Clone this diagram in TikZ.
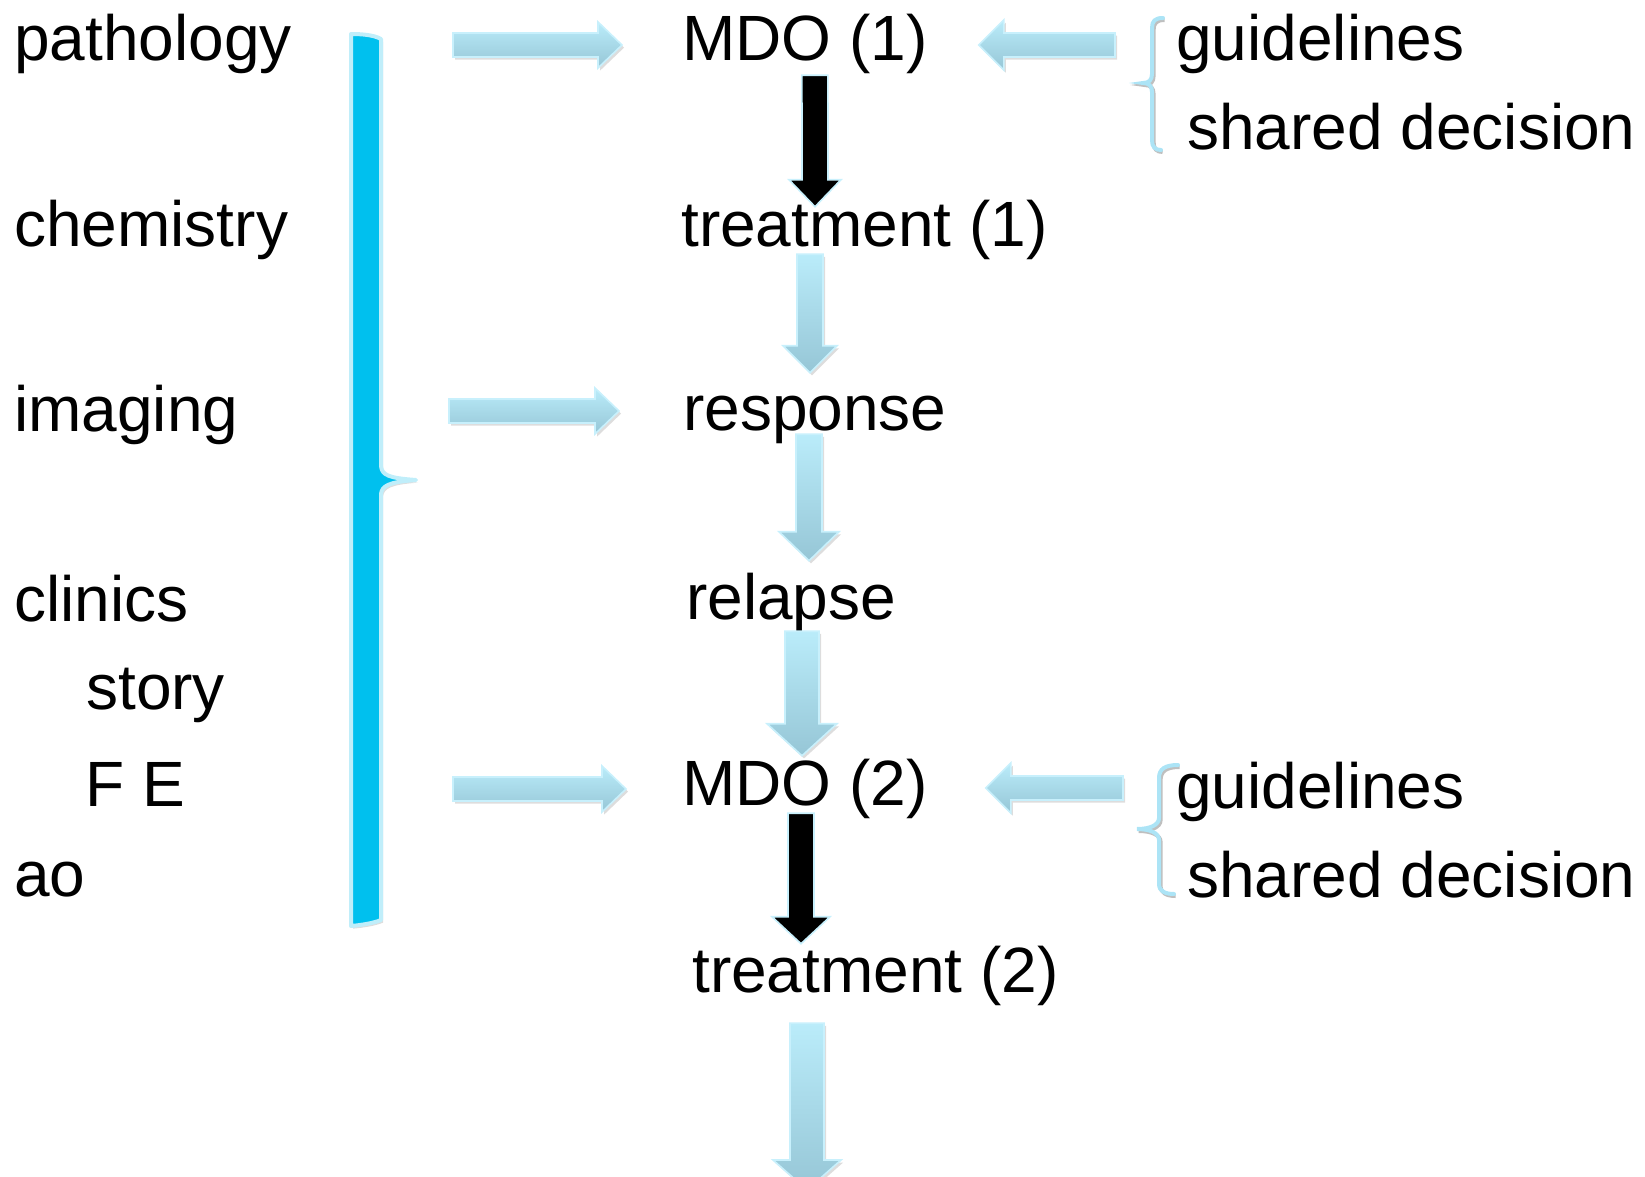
\documentclass[tikz,border=0pt]{standalone}
\usepackage{fontspec}
\setmainfont{Liberation Sans}
\usetikzlibrary{calc,shadows}

\definecolor{barcyan}{RGB}{0,192,238}
\definecolor{barrim}{RGB}{192,238,250}
\definecolor{bracerim}{RGB}{172,228,246}
\definecolor{arrowtop}{RGB}{186,236,250}
\definecolor{arrowbot}{RGB}{150,198,214}
\definecolor{arrowrim}{RGB}{200,240,252}

% sizes of a block arrow, changed by the keys below
\def\shaftw{9.75pt}
\def\headw{20.25pt}
\def\headlen{20.25pt}

\tikzset{
  lbl/.style={anchor=base west, inner sep=0pt, text height=34.5pt, text depth=9.75pt,
    font=\fontsize{48pt}{56pt}\selectfont},
  shaft half/.code={\def\shaftw{#1}},
  head half/.code={\def\headw{#1}},
  head long/.code={\def\headlen{#1}},
  softshadow/.style={drop shadow={shadow xshift=1.5pt, shadow yshift=-2pt, opacity=0.22, fill=black!60}},
  flowarrow/.style={top color=arrowtop, bottom color=arrowbot, draw=arrowrim, line width=1.2pt, softshadow},
  darkarrow/.style={fill=black, draw=arrowrim, line width=1.2pt},
  sideflow/.style={flowarrow, shaft half=9pt, head half=17.25pt, head long=18pt},
  bracestroke/.style={draw=bracerim, line width=3pt, line cap=round,
    preaction={draw=black!25, line width=3pt, transform canvas={shift={(1.2pt,-1.5pt)}}}},
}

% block arrow from #2 to #3
\newcommand{\blockarrow}[3][flowarrow]{%
  \begin{scope}[#1]
    \coordinate (ba-s) at (#2);
    \coordinate (ba-t) at (#3);
    \coordinate (ba-h) at ($(ba-t)!\headlen!(ba-s)$);
    \path[#1] ($(ba-s)!\shaftw!90:(ba-t)$) -- ($(ba-h)!\shaftw!-90:(ba-s)$)
      -- ($(ba-h)!\headw!-90:(ba-s)$) -- (ba-t) -- ($(ba-h)!\headw!90:(ba-s)$)
      -- ($(ba-h)!\shaftw!90:(ba-s)$) -- ($(ba-s)!\shaftw!-90:(ba-t)$) -- cycle;
  \end{scope}}

\begin{document}
\begin{tikzpicture}[x=0.75pt, y=-0.75pt]
		\useasboundingbox (0,0) rectangle (1645,1177);
		\clip (0,0) rectangle (1645,1177);
		
		% left column
		\node[lbl] (patho) at (14,61) {pathology};
		\node[lbl] (chem) at (14,246) {chemistry};
		\node[lbl] (imag) at (14,431) {imaging};
		\node[lbl] (clin) at (14,621) {clinics};
		\node[lbl] (story) at (86,709) {story};
		\node[lbl] (fe) at (85,806) {F E};
		\node[lbl] (ao) at (14,896) {ao};
		
		% the big bracket
		\path[fill=barcyan, draw=barrim, line width=3pt, line join=round, softshadow]
			(351,34) .. controls (362,34) and (374,35) .. (381,39)
			-- (381,466) .. controls (382,475) and (388,478) .. (416,480)
			.. controls (388,482) and (382,486) .. (381,494)
			-- (381,920) .. controls (374,923) and (362,925) .. (351,926) -- cycle;
		
		% middle column
		\node[lbl] (mdoA) at (682,61) {MDO (1)};
		\node[lbl] (treatA) at (681,246) {treatment (1)};
		\node[lbl] (resp) at (683,430) {response};
		\node[lbl] (relap) at (686,619) {relapse};
		\node[lbl] (mdoB) at (682,805) {MDO (2)};
		\node[lbl] (treatB) at (692,992) {treatment (2)};
		
		% right column
		\node[lbl] (guideA) at (1176,61) {guidelines};
		\node[lbl] (sharedA) at (1187,150) {shared decision};
		\node[lbl] (guideB) at (1176,808) {guidelines};
		\node[lbl] (sharedB) at (1187,897) {shared decision};
		
		\path[bracestroke]
			(1163,18) .. controls (1155,18) and (1152,21) .. (1152,28) -- (1152,74)
			.. controls (1152,80) and (1149,83) .. (1143,83)
			.. controls (1149,83) and (1152,86) .. (1152,92) -- (1152,140)
			.. controls (1152,147) and (1155,150) .. (1161,150);
		\path[bracestroke]
			(1178,765) .. controls (1165,765) and (1159,769) .. (1159,778) -- (1159,818)
			.. controls (1159,825) and (1150,829) .. (1137,829)
			.. controls (1150,829) and (1159,833) .. (1159,840) -- (1159,884)
			.. controls (1159,891) and (1165,894) .. (1174,894);
		
		% free ends
		\coordinate (srcA) at (453,45);
		\coordinate (srcB) at (449,411);
		\coordinate (srcC) at (453,789);
		\coordinate (sink) at (807,1190);
		
		% arrows into the MDO column
		\blockarrow[sideflow]{srcA}{$(mdoA.west)+(-60,0.5)$}
		\blockarrow[sideflow]{srcB}{$(resp.west)+(-64,-2.5)$}
		\blockarrow[sideflow]{srcC}{$(mdoB.west)+(-56,0.5)$}
		\blockarrow[sideflow, head half=18.75pt, head long=18.75pt]{$(guideA.west)+(-61,0.5)$}{$(mdoA.east)+(51,0.5)$}
		\blockarrow[sideflow, head half=18.75pt, head long=18.75pt]{$(guideB.west)+(-53,-3.5)$}{$(mdoB.east)+(58,-0.5)$}
		
		% down the middle
		\blockarrow[darkarrow, head half=19.5pt]{$(mdoA.south)+(10,1)$}{$(treatA.north west)+(134,7)$}
		\blockarrow{$(treatA.south west)+(129,-5)$}{$(resp.north west)+(127,-11)$}
		\blockarrow[flowarrow, head half=22.5pt, head long=21.75pt]{$(resp.south west)+(126,-9)$}{$(relap.north west)+(123,-12)$}
		\blockarrow[flowarrow, shaft half=12.75pt, head half=26.25pt, head long=24pt]{$(relap.south west)+(116,-1)$}{$(mdoB.north west)+(120,-3)$}
		\blockarrow[darkarrow, head half=21.75pt]{$(mdoB.south west)+(119,-5)$}{$(treatB.north west)+(109,-2)$}
		\blockarrow[flowarrow, shaft half=12.75pt, head half=25.5pt, head long=22.5pt]{$(treatB.south west)+(115,18)$}{sink}
		
\end{tikzpicture}
\end{document}
